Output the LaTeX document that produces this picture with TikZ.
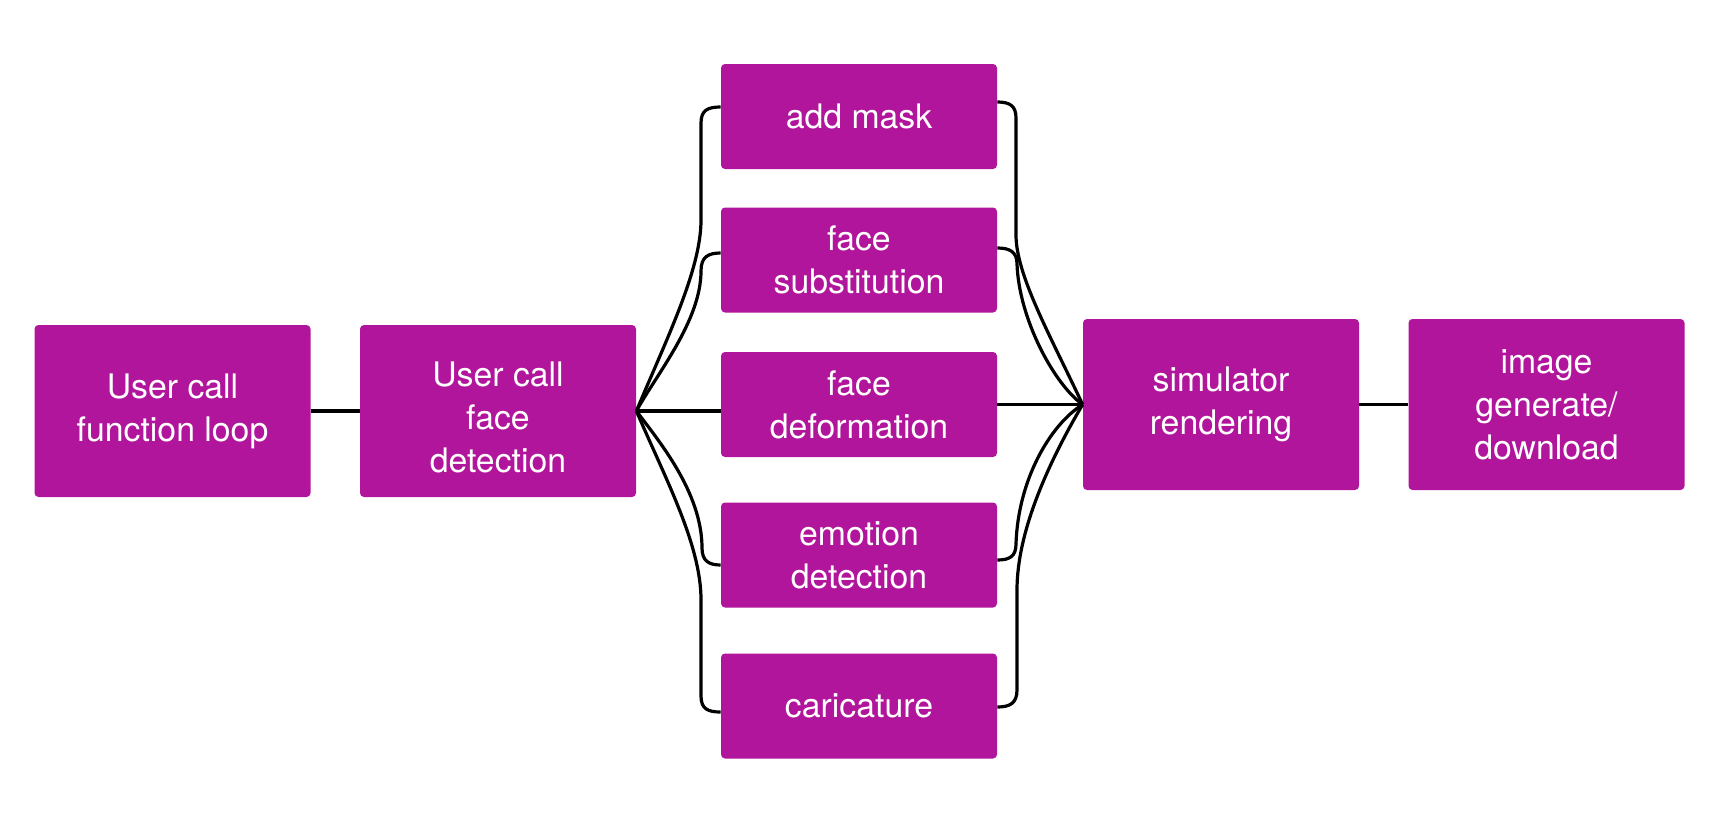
\documentclass[tikz,border=0pt]{standalone}
\usepackage{fontspec}
\setmainfont{TeX Gyre Heros}
\usetikzlibrary{calc}
\definecolor{boxmag}{RGB}{177,21,155}
\newcommand\boxfnt{\fontsize{16.9pt}{21.5pt}\selectfont}
\tikzset{
  box/.style={fill=boxmag, draw=none, rounded corners=2pt, text=white,
    font=\boxfnt, align=center, inner sep=0pt},
  bigbox/.style={box, minimum width=138pt, minimum height=86pt},
  midbox/.style={box, minimum width=138pt, minimum height=52.5pt},
  link/.style={draw=black, line width=1.6pt}
}
\begin{document}
\begin{tikzpicture}[x=0.5pt,y=-0.5pt]
\useasboundingbox (0,0) rectangle (1718,830);
\fill[white] (0,0) rectangle (1718,830);

\node[bigbox] (b1) at (172.5,411) {User call\\function loop};
\node[bigbox] (b2) at (498,411) {\rule{0pt}{19pt}User call\\face\\detection};
\node[midbox] (mask) at (859,116.5) {add mask};
\node[midbox] (sub) at (859,260) {face\\substitution};
\node[midbox] (def) at (859,404.5) {face\\deformation};
\node[midbox] (emo) at (859,555) {emotion\\detection};
\node[midbox] (car) at (859,706) {caricature};
\node[bigbox, minimum height=85.5pt] (sim) at (1221,404.5) {simulator\\rendering};
\node[bigbox, minimum height=85.5pt] (img) at (1546.5,404.5) {image\\generate/\\download};

% straight links
\draw[link] (b1.east) -- (b2.west);
\draw[link] (sim.east) -- (img.west);
\draw[link] (b2.east) -- (b2.east -| def.west);
\draw[link] (def.east) -- (sim.west);

% fan-out from face detection
\draw[link] (b2.east) .. controls (666,340) and (701,270) .. (701,220) -- (701,123)
  .. controls (701,110) and (708,107) .. ($(mask.west)+(0,-9.5)$);
\draw[link] (b2.east) .. controls (656,375) and (701,321) .. (701,271)
  .. controls (701,257) and (708,253) .. ($(sub.west)+(0,-7)$);
\draw[link] (b2.east) .. controls (658,440) and (702,492) .. (702,548)
  .. controls (702,561) and (709,565) .. ($(emo.west)+(0,10)$);
\draw[link] (b2.east) .. controls (666,480) and (701,545) .. (701,600) -- (701,696)
  .. controls (701,709) and (708,712) .. ($(car.west)+(0,6)$);

% fan-in to simulator rendering
\draw[link] ($(mask.east)+(0,-14.5)$) .. controls (1010,102) and (1016,106) .. (1016,118)
  -- (1016,235) .. controls (1016,275) and (1050,335) .. (sim.west);
\draw[link] ($(sub.east)+(0,-12)$) .. controls (1010,248) and (1017,252) .. (1017,264)
  .. controls (1019,320) and (1055,385) .. (sim.west);
\draw[link] ($(emo.east)+(0,5)$) .. controls (1010,560) and (1016,556) .. (1016,544)
  .. controls (1018,480) and (1050,425) .. (sim.west);
\draw[link] ($(car.east)+(0,1)$) .. controls (1010,707) and (1017,703) .. (1017,690)
  -- (1017,590) .. controls (1017,530) and (1050,460) .. (sim.west);
\end{tikzpicture}
\end{document}
